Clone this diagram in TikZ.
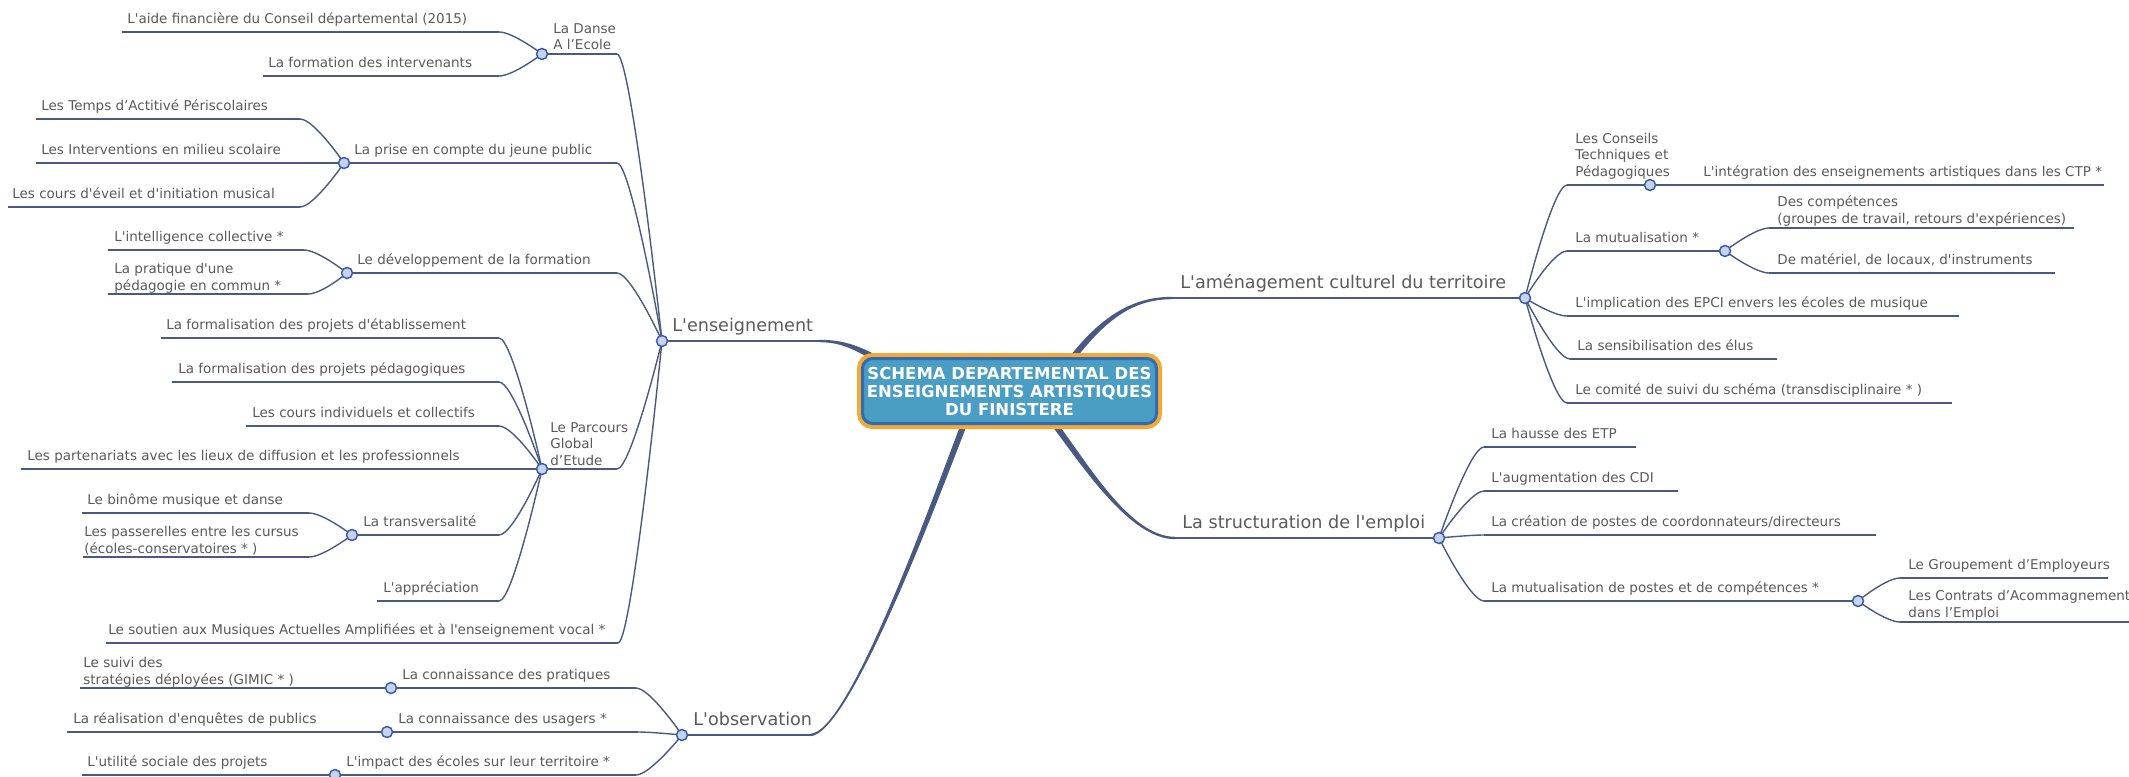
\documentclass[tikz,border=0pt]{standalone}
\usepackage{fontspec}
\newfontfamily\mapfont{DejaVu Sans}
\usepackage{xcolor}
\definecolor{qline}{HTML}{485A82}
\definecolor{qtext}{HTML}{5A5A5A}
\definecolor{qdot}{HTML}{C7D3EB}
\definecolor{qring}{HTML}{3A5DA8}
\definecolor{qbox}{HTML}{4A9DC3}
\definecolor{qboxline}{HTML}{2E6CB5}
\definecolor{qorange}{HTML}{F5A833}
\usepackage{tikz}
\usetikzlibrary{calc,backgrounds}
% tapered main branch: start, end, offset of control 1, offset of control 2
\newcommand{\trunk}[4]{%
  \path (#1) ++(#3) coordinate (tk-a);
  \path (#2) ++(#4) coordinate (tk-b);
  \fill[qline] ($(#1)!1.5pt!90:(tk-a)$) .. controls ($(tk-a)!1.5pt!-90:(#1)$) and ($(tk-b)!0.6pt!90:(#2)$) .. ($(#2)!0.6pt!-90:(tk-b)$)
    -- ($(#2)!0.6pt!90:(tk-b)$) .. controls ($(tk-b)!0.6pt!-90:(#2)$) and ($(tk-a)!1.5pt!90:(#1)$) .. ($(#1)!1.5pt!-90:(tk-a)$) -- cycle;}

\begin{document}
\begin{tikzpicture}[x=0.5pt,y=-0.5pt,
  lbl/.style={font=\mapfont\fontsize{6.75}{8.25}\selectfont,text=qtext,inner sep=0pt,anchor=base west,align=left},
  biglbl/.style={lbl,font=\mapfont\fontsize{8.8}{10}\selectfont},
  twig/.style={draw=qline,line width=0.7pt},
  limb/.style={draw=qline,line width=1.2pt},
  dot/.style={circle,draw=qring,fill=qdot,line width=0.75pt,minimum size=5.5pt,inner sep=0pt},
  hub/.style={rectangle,rounded corners=5pt,draw=qboxline,line width=1.5pt,fill=qbox,
    preaction={draw=qorange,line width=5.5pt},text=white,align=center,
    font=\mapfont\bfseries\fontsize{8.25}{9}\selectfont,
    minimum width=147pt,minimum height=32.5pt,inner sep=0pt}]
\useasboundingbox (0,0) rectangle (2129,776);
% centre
\node[hub] (schema) at (1009.5,391) {SCHEMA DEPARTEMENTAL DES\\ENSEIGNEMENTS ARTISTIQUES\\DU FINISTERE};
% main branches
\coordinate (ens) at (662,341);      \coordinate (ens-e) at (819,341);
\coordinate (obs) at (682,735);      \coordinate (obs-e) at (810,735);
\coordinate (amg) at (1525,298);     \coordinate (amg-w) at (1172,298);
\coordinate (emploi) at (1439,538);  \coordinate (emploi-w) at (1175,538);
\coordinate (s-ens) at ($(schema.north west)+(18,3)$);
\coordinate (s-amg) at ($(schema.north)+(62,2)$);
\coordinate (s-emploi) at ($(schema.south)+(44,-2)$);
\coordinate (s-obs) at ($(schema.south)+(-45,-2)$);
\node[biglbl] (ens-t) at (672,331) {L'enseignement};
\node[biglbl] (obs-t) at (693,725) {L'observation};
\node[biglbl] (amg-t) at (1180,288) {L'aménagement culturel du territoire};
\node[biglbl] (emploi-t) at (1182,528) {La structuration de l'emploi};
\begin{scope}[on background layer]
  \trunk{s-ens}{ens-e}{-22,-12}{24,0}
  \trunk{s-amg}{amg-w}{30,-38}{-42,0}
  \trunk{s-emploi}{emploi-w}{32,42}{-45,0}
  \trunk{s-obs}{obs-e}{-25,64}{40,0}
  \draw[limb] (ens) -- (ens-e);
  \draw[limb] (obs) -- (obs-e);
  \draw[limb] (amg-w) -- (amg);
  \draw[limb] (emploi-w) -- (emploi);
  % left side: name/xleft/xright/y/parent/text x/text base/text
  \foreach \n/\xa/\xb/\y/\p/\tx/\ty/\t in {
    danse/542/617/54/ens/553/49.5/{La Danse\\A l’Ecole},
    jeune/344/617/163/ens/354/154.5/{La prise en compte du jeune public},
    forma/347/617/273/ens/357/264.5/{Le développement de la formation},
    pge/542/617/469/ens/550/465/{Le Parcours\\Global\\d’Etude},
    soutien/106/618/643/ens/108/634.5/{Le soutien aux Musiques Actuelles Amplifiées et à l'enseignement vocal *},
    aide/122/499/32/danse-w/127/23.5/{L'aide financière du Conseil départemental (2015)},
    interv/263/499/76/danse-w/268/67.5/{La formation des intervenants},
    tap/36/300/119/jeune-w/41/110.5/{Les Temps d’Actitivé Périscolaires},
    scol/36/344/163/jeune-w/41/154.5/{Les Interventions en milieu scolaire},
    eveil/8/300/207/jeune-w/12/198.5/{Les cours d'éveil et d'initiation musical},
    intel/108/304/250/forma-w/114/241.5/{L'intelligence collective *},
    peda/108/308/294/forma-w/114/290/{La pratique d'une\\pédagogie en commun *},
    etab/161/499/338/pge-w/166/329.5/{La formalisation des projets d'établissement},
    projp/172/499/382/pge-w/178/373.5/{La formalisation des projets pédagogiques},
    cours/246/499/426/pge-w/252/417.5/{Les cours individuels et collectifs},
    parten/21/542/469/pge-w/27/460.5/{Les partenariats avec les lieux de diffusion et les professionnels},
    trans/352/499/535/pge-w/363/526.5/{La transversalité},
    appr/377/499/601/pge-w/383/592.5/{L'appréciation},
    binome/82/309/513/trans-w/87/504.5/{Le binôme musique et danse},
    passer/83/309/557/trans-w/84/553/{Les passerelles entre les cursus\\(écoles-conservatoires * )},
    prat/391/636/688/obs/402/679.5/{La connaissance des pratiques},
    usag/387/638/732/obs/398/723.5/{La connaissance des usagers *},
    impact/335/636/775/obs/346/766.5/{L'impact des écoles sur leur territoire *},
    suivi/80/391/688/prat-w/83/684/{Le suivi des\\stratégies déployées (GIMIC * )},
    enq/67/387/732/usag-w/73/723.5/{La réalisation d'enquêtes de publics},
    util/82/335/775/impact-w/87/766.5/{L'utilité sociale des projets}}{
    \coordinate (\n-w) at (\xa,\y);
    \coordinate (\n-e) at (\xb,\y);
    \draw[twig] (\n-w) -- (\n-e);
    \draw[twig] (\p) .. controls +(0,0) and +(14,0) .. (\n-e);
    \node[lbl] (\n) at (\tx,\ty) {\t};
  }
  % right side
  \foreach \n/\xa/\xb/\y/\p/\tx/\ty/\t in {
    ctp/1567/1650/185/amg/1575/176/{Les Conseils\\Techniques et\\Pédagogiques},
    mutu/1567/1725/251/amg/1575/242.5/{La mutualisation *},
    epci/1567/1959/316/amg/1575/307.5/{L'implication des EPCI envers les écoles de musique},
    elus/1570/1777/359/amg/1577/350.5/{La sensibilisation des élus},
    comite/1567/1952/403/amg/1575/394.5/{Le comité de suivi du schéma (transdisciplinaire * )},
    integ/1650/2104/185/ctp-e/1703/176.5/{L'intégration des enseignements artistiques dans les CTP *},
    compet/1769/2074/228/mutu-e/1777/223/{Des compétences\\(groupes de travail, retours d'expériences)},
    mater/1769/2055/273/mutu-e/1777/264.5/{De matériel, de locaux, d'instruments},
    etp/1484/1636/447/emploi/1491/438.5/{La hausse des ETP},
    cdi/1484/1678/491/emploi/1491/482.5/{L'augmentation des CDI},
    coord/1484/1876/535/emploi/1491/526.5/{La création de postes de coordonnateurs/directeurs},
    mpost/1484/1858/601/emploi/1491/592.5/{La mutualisation de postes et de compétences *},
    geie/1900/2108/578/mpost-e/1908/569.5/{Le Groupement d’Employeurs},
    cae/1900/2135/622/mpost-e/1908/617/{Les Contrats d’Acommagnement\\dans l’Emploi}}{
    \coordinate (\n-w) at (\xa,\y);
    \coordinate (\n-e) at (\xb,\y);
    \draw[twig] (\n-w) -- (\n-e);
    \draw[twig] (\p) .. controls +(0,0) and +(-14,0) .. (\n-w);
    \node[lbl] (\n) at (\tx,\ty) {\t};
  }
\end{scope}
% branch points
\foreach \d in {ens,obs,amg,emploi,danse-w,jeune-w,forma-w,pge-w,trans-w,prat-w,usag-w,impact-w,ctp-e,mutu-e,mpost-e}
  \node[dot] (dot-\d) at (\d) {};
\end{tikzpicture}
\end{document}
